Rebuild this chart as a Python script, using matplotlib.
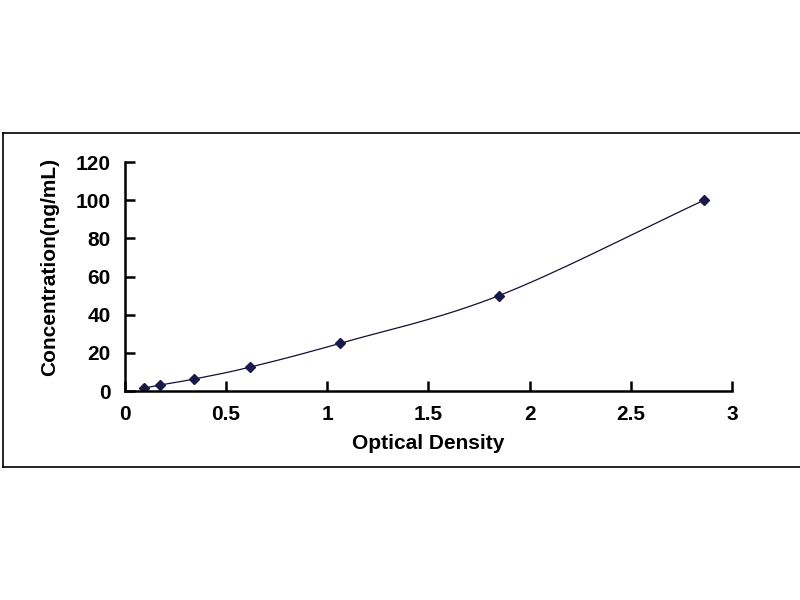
import numpy as np
import matplotlib.pyplot as plt
from matplotlib.lines import Line2D

# standard curve readings
od = [0.094, 0.173, 0.341, 0.618, 1.063, 1.849, 2.862]
conc = [1.56, 3.12, 6.25, 12.5, 25, 50, 100]
x_ticks = [0, 0.5, 1, 1.5, 2, 2.5, 3]
y_ticks = [0, 20, 40, 60, 80, 100, 120]


def smooth(xs, ys, n=30):
    """Catmull-Rom style smoothing through the points (like a spreadsheet smooth line)."""
    xs = np.asarray(xs, float)
    ys = np.asarray(ys, float)
    px = np.concatenate([[2 * xs[0] - xs[1]], xs, [2 * xs[-1] - xs[-2]]])
    py = np.concatenate([[2 * ys[0] - ys[1]], ys, [2 * ys[-1] - ys[-2]]])
    outx, outy = [], []
    t = np.linspace(0, 1, n)
    for i in range(1, len(px) - 2):
        p0, p1, p2, p3 = (np.array([px[j], py[j]]) for j in range(i - 1, i + 3))
        b1 = p1 + (p2 - p0) / 6
        b2 = p2 - (p3 - p1) / 6
        pts = ((1 - t) ** 3)[:, None] * p1 + (3 * (1 - t) ** 2 * t)[:, None] * b1 \
            + (3 * (1 - t) * t ** 2)[:, None] * b2 + (t ** 3)[:, None] * p2
        outx.extend(pts[:, 0])
        outy.extend(pts[:, 1])
    return outx, outy


plt.rcParams['font.family'] = ['Liberation Sans', 'DejaVu Sans']
plt.rcParams['font.weight'] = 'bold'

fig = plt.figure(figsize=(8, 6), dpi=100)
ax = fig.add_axes([0.156, 0.3483, 0.759, 0.3817])

sx, sy = smooth(od, conc)
ax.plot(sx, sy, color='#101030', lw=0.9)
ax.plot(od, conc, linestyle='none', marker='D', markersize=5.5,
        color='#1a1a4a')

ax.set_xlim(0, 3)
ax.set_ylim(0, 120)
ax.set_xticks(x_ticks)
ax.set_xticklabels([f'{v:g}' for v in x_ticks])
ax.set_yticks(y_ticks)
ax.spines['top'].set_visible(False)
ax.spines['right'].set_visible(False)
ax.spines['left'].set_linewidth(1.8)
ax.spines['bottom'].set_linewidth(1.8)
ax.tick_params(direction='in', length=7, width=1.8, labelsize=15, pad=10)
for lab in ax.get_xticklabels() + ax.get_yticklabels():
    lab.set_fontweight('bold')

ax.set_xlabel('Optical Density', fontsize=15, fontweight='bold', labelpad=7)
ax.set_ylabel('Concentration(ng/mL)', fontsize=15, fontweight='bold')
ax.yaxis.set_label_coords(-0.108, 0.54)

# outer frame around the chart area
for xs_, ys_ in [([0.004, 1.0], [0.778, 0.778]), ([0.004, 1.0], [0.222, 0.222]),
                 ([0.004, 0.004], [0.222, 0.778])]:
    fig.add_artist(Line2D(xs_, ys_, color='black', lw=1.2))

fig.savefig('out.png', dpi=100)
